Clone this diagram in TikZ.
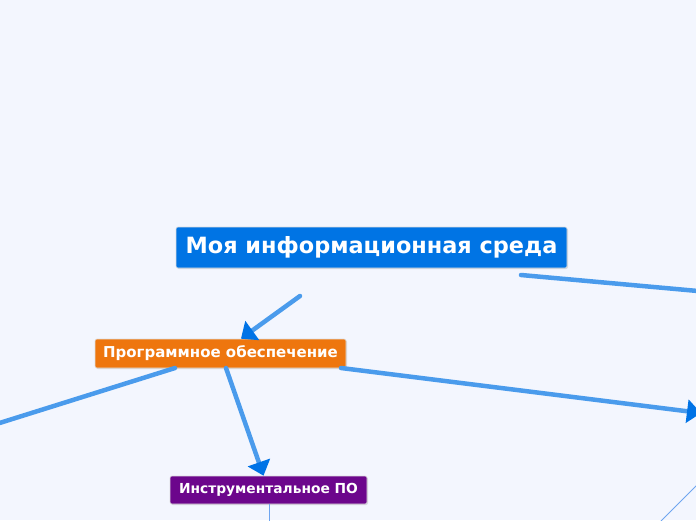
\documentclass[tikz,border=0pt]{standalone}
\usepackage{fontspec}
\setmainfont{DejaVu Sans}
\usetikzlibrary{arrows.meta,shadows}
\definecolor{bgpaper}{RGB}{243,246,254}
\definecolor{rootblue}{RGB}{0,116,228}
\definecolor{softorange}{RGB}{238,118,14}
\definecolor{toolpurple}{RGB}{108,6,140}
\definecolor{linkblue}{RGB}{74,155,236}
\definecolor{tipblue}{RGB}{0,115,230}
\definecolor{thinblue}{RGB}{110,165,240}
\tikzset{
  topic/.style={rounded corners=2pt, inner sep=0pt, text=white, font=\bfseries,
    draw=white!75!gray, line width=0.6pt,
    drop shadow={shadow xshift=1pt, shadow yshift=-1pt, opacity=0.25}},
  link/.style={draw=linkblue, line width=4.5pt, line cap=round},
  linkarrow/.style={link, -{Triangle[length=14pt,width=23pt,color=tipblue]}},
  thinlink/.style={draw=thinblue, line width=0.9pt}
}
\begin{document}
\begin{tikzpicture}[x=1pt,y=1pt,yscale=-1]
\useasboundingbox[fill=bgpaper] (0,0) rectangle (696,520);

% Text Node
\node[topic, fill=rootblue, minimum width=391pt, minimum height=41pt, font=\bfseries\fontsize{22.4}{26}\selectfont] (root) at (371.5,247.5) {Моя информационная среда};
% Text Node
\node[topic, fill=softorange, minimum width=251pt, minimum height=29pt, font=\bfseries\fontsize{15}{18}\selectfont] (soft) at (220.5,353.5) {Программное обеспечение};
% Text Node
\node[topic, fill=toolpurple, minimum width=197pt, minimum height=28pt, font=\bfseries\fontsize{13.8}{16}\selectfont] (tools) at (268.5,490) {Инструментальное ПО};

% free ends
\coordinate (rootS) at (300,296);
\coordinate (rootE) at (521,275);
\coordinate (offE) at (720,293);
\coordinate (softW) at (175,368);
\coordinate (offW) at (-10,426);
\coordinate (softS) at (226,368);
\coordinate (softE) at (341,368);
\coordinate (offSE) at (701,413);
\coordinate (toolsS) at (269,504);
\coordinate (offS) at (269,525);
\coordinate (farA) at (700,482);
\coordinate (farB) at (661,521);

%Straight Lines
\draw[link] (rootE) -- (offE);
\draw[linkarrow] (rootS) -- (soft);
\draw[link] (softW) -- (offW);
\draw[linkarrow] (softS) -- (tools);
\draw[linkarrow] (softE) -- (offSE);

%Straight Lines
\draw[thinlink] (toolsS) -- (offS);
\draw[thinlink] (farA) -- (farB);

\end{tikzpicture}
\end{document}
